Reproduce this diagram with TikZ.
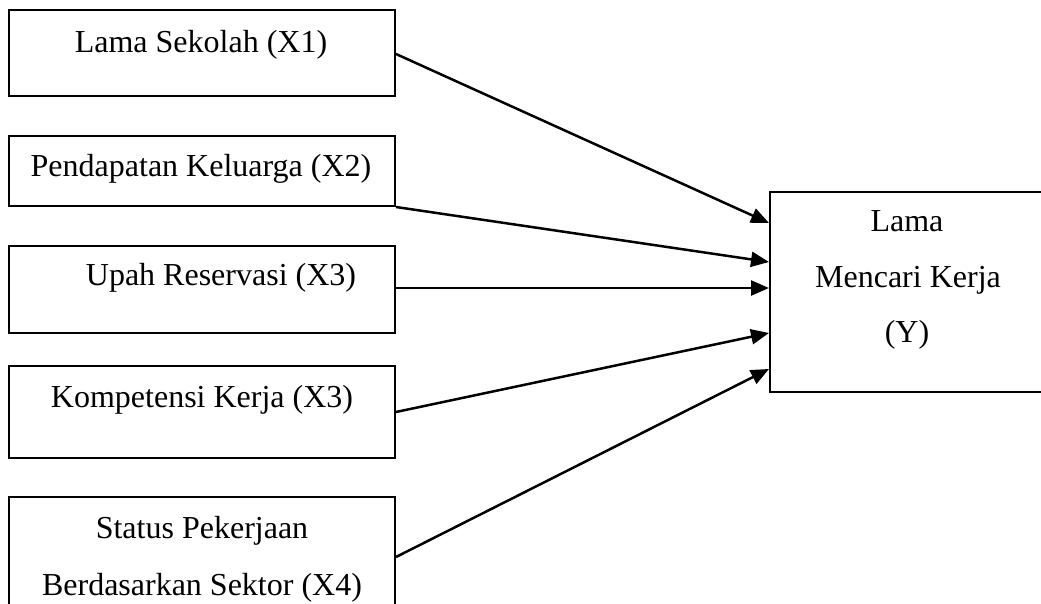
\documentclass[tikz,border=0pt]{standalone}
\usepackage{fontspec}
\setmainfont{Liberation Serif}
\usetikzlibrary{arrows.meta,calc}
\begin{document}
\begin{tikzpicture}[x=1pt,y=-1pt,
  box/.style={draw,line width=2pt,rectangle,inner sep=0pt},
  lbl/.style={anchor=base,inner sep=0pt,font=\fontsize{32}{55}\selectfont},
  conn/.style={line width=2.5pt,-{Triangle[length=18pt,width=15pt]}}]
\useasboundingbox (0,0) rectangle (1041,604);
\clip (0,0) rectangle (1041,604);
\node[box,minimum width=386pt,minimum height=86pt] (b1) at (202,53) {};
\node[box,minimum width=386pt,minimum height=70pt] (b2) at (202,171) {};
\node[box,minimum width=386pt,minimum height=87pt] (b3) at (202,289.5) {};
\node[box,minimum width=386pt,minimum height=92pt] (b4) at (202,412) {};
\node[box,minimum width=386pt,minimum height=160pt] (b5) at (202,577) {};
\node[box,minimum width=320pt,minimum height=200pt] (Y) at (930,292) {};
\node[lbl] (t1) at (201,53) {Lama Sekolah (X1)};
\node[lbl] (t2) at (201,177) {Pendapatan Keluarga (X2)};
\node[lbl] (t3) at (221,285) {Upah Reservasi (X3)};
\node[lbl] (t4) at (202,407) {Kompetensi Kerja (X3)};
\node[lbl] (t5a) at (202,538) {Status Pekerjaan};
\node[lbl] (t5b) at (202,595) {Berdasarkan Sektor (X4)};
\node[lbl] (ty1) at (907,232) {Lama};
\node[lbl] (ty2) at (908,287) {Mencari Kerja};
\node[lbl] (ty3) at (907,342) {(Y)};
\draw[conn] ($(b1.east)+(0,1)$) -- ($(Y.west)+(0,-69)$);
\draw[conn] (b2.south east) -- ($(Y.west)+(0,-30)$);
\draw[conn] ($(b3.east)+(0,-1.5)$) -- ($(Y.west)+(0,-4)$);
\draw[conn] (b4.east) -- ($(Y.west)+(0,41)$);
\draw[conn] ($(b5.east)+(0,-20)$) -- ($(Y.west)+(0,77)$);
\end{tikzpicture}
\end{document}
